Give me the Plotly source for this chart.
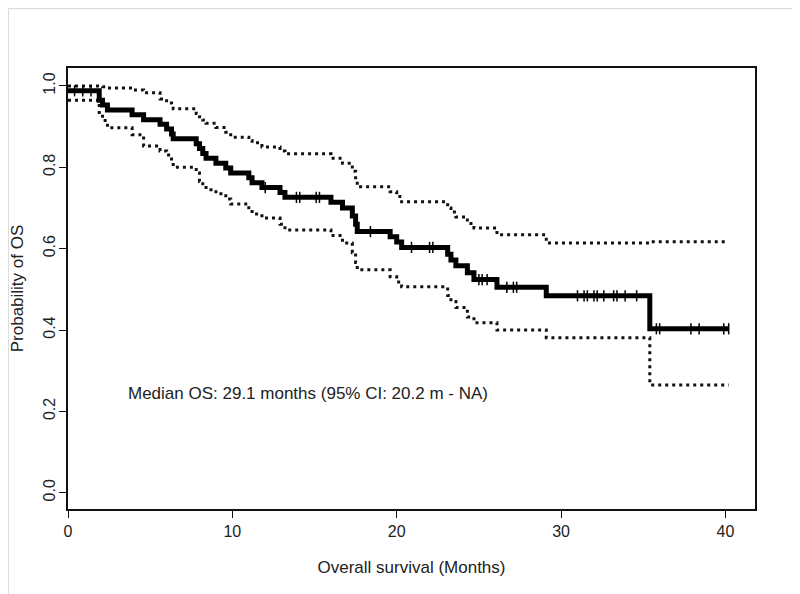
import numpy as np
import plotly.graph_objects as go

# Kaplan-Meier estimate (event times, survival after each event)
event_times = [0, 1.9, 2.1, 2.4, 3.9, 4.6, 5.6, 6.0, 6.3, 6.4, 7.8, 8.0, 8.2, 8.4, 9.0, 9.6, 9.9,
               11.0, 11.2, 11.8, 12.9, 13.2, 16.0, 16.7, 17.3, 17.5, 17.6, 19.6, 20.0, 20.3,
               23.1, 23.3, 23.6, 24.3, 24.7, 26.1, 29.1, 35.4]
survival = [0.988, 0.965, 0.953, 0.941, 0.929, 0.917, 0.906, 0.894, 0.882, 0.870, 0.858, 0.846,
            0.834, 0.822, 0.810, 0.798, 0.786, 0.774, 0.762, 0.750, 0.738, 0.726, 0.714, 0.700,
            0.680, 0.660, 0.642, 0.629, 0.616, 0.603, 0.586, 0.572, 0.558, 0.541, 0.524, 0.505,
            0.484, 0.403]
upper_ci = [1.0, 1.0, 0.998, 0.995, 0.990, 0.983, 0.968, 0.958, 0.950, 0.944, 0.932, 0.924,
            0.916, 0.908, 0.898, 0.886, 0.874, 0.866, 0.860, 0.850, 0.840, 0.833, 0.822, 0.810,
            0.790, 0.770, 0.752, 0.740, 0.728, 0.715, 0.700, 0.690, 0.678, 0.662, 0.651, 0.634,
            0.614, 0.617]
lower_ci = [0.965, 0.930, 0.915, 0.897, 0.880, 0.852, 0.840, 0.830, 0.815, 0.800, 0.786, 0.765,
            0.755, 0.745, 0.735, 0.722, 0.710, 0.695, 0.685, 0.675, 0.660, 0.646, 0.632, 0.614,
            0.590, 0.566, 0.548, 0.531, 0.518, 0.506, 0.485, 0.470, 0.455, 0.432, 0.418, 0.400,
            0.381, 0.265]
end_time = 40.2

censor_times = [0.4, 0.9, 1.4, 12.0, 13.9, 14.1, 15.1, 15.3, 18.4, 20.9, 22.0, 22.2, 25.0, 25.2,
                25.5, 26.7, 27.1, 27.3, 31.0, 31.4, 31.6, 32.0, 32.2, 32.6, 33.2, 33.4, 33.9,
                34.6, 35.8, 36.0, 37.9, 38.4, 39.9, 40.2]

x_ticks = [0, 10, 20, 30, 40]
y_ticks = [0.0, 0.2, 0.4, 0.6, 0.8, 1.0]
annotation_text = "Median OS: 29.1 months (95% CI: 20.2 m - NA)"

t_ext = event_times + [end_time]

def ext(v):
    return v + [v[-1]]

idx = np.searchsorted(np.array(event_times), np.array(censor_times), side="right") - 1
censor_y = np.array(survival)[idx]

fig = go.Figure()
for ci in (upper_ci, lower_ci):
    fig.add_trace(go.Scatter(x=t_ext, y=ext(ci), mode="lines", line_shape="hv",
                             line=dict(color="#111", width=3, dash="3px,4px"),
                             showlegend=False, hoverinfo="skip"))
fig.add_trace(go.Scatter(x=t_ext, y=ext(survival), mode="lines", line_shape="hv",
                         line=dict(color="#000", width=5), showlegend=False))
fig.add_trace(go.Scatter(x=censor_times, y=censor_y, mode="markers",
                         marker=dict(symbol="line-ns", size=8,
                                     line=dict(color="#000", width=1.5)),
                         showlegend=False))

fig.add_annotation(x=3.5, y=0.243, xref="x", yref="y", text=annotation_text,
                   showarrow=False, xanchor="left", yanchor="middle",
                   font=dict(size=17, color="#222"))

# light outer image border (left and top edges of the figure)
fig.add_shape(type="line", xref="paper", yref="paper", x0=-0.087, x1=-0.087, y0=-0.3, y1=1.135,
              line=dict(color="#dddddd", width=1.5))
fig.add_shape(type="line", xref="paper", yref="paper", x0=-0.087, x1=1.06, y0=1.135, y1=1.135,
              line=dict(color="#dddddd", width=1.5))

axis_common = dict(showgrid=False, zeroline=False, showline=True, mirror=True,
                   linecolor="#111", linewidth=2, ticks="outside", ticklen=7,
                   tickcolor="#111", tickwidth=1.2, automargin=False,
                   tickfont=dict(size=16, color="#222", family="Liberation Sans"))

fig.update_layout(
    width=800, height=594,
    margin=dict(l=60, r=53, t=60, b=93),
    plot_bgcolor="white", paper_bgcolor="white",
    font=dict(family="Liberation Sans", color="#222"),
    xaxis=dict(range=[0, 41.8], tickvals=x_ticks, ticktext=[str(v) for v in x_ticks],
               title=dict(text="Overall survival (Months)", font=dict(size=17), standoff=22),
               **axis_common),
    yaxis=dict(range=[-0.04, 1.044], tickvals=y_ticks, ticktext=[f"{v:.1f}" for v in y_ticks],
               tickangle=-90, ticklabelstandoff=-2,
               title=dict(text="Probability of OS", font=dict(size=17), standoff=20),
               **axis_common),
)

fig.write_html("out.html")
